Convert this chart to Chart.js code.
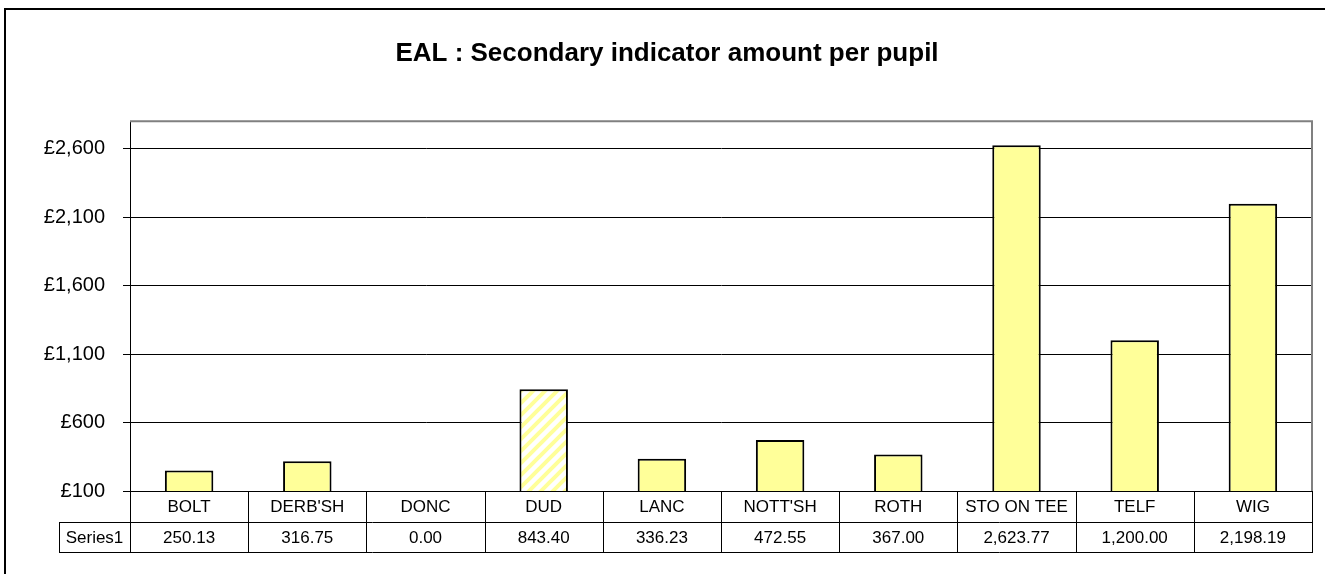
<!DOCTYPE html>
<html>
<head>
<meta charset="utf-8">
<script src="https://cdn.jsdelivr.net/npm/chart.js@4/dist/chart.umd.min.js"></script>
<style>
  body { margin: 0; background: #fff; }
  #wrap { width: 1325px; height: 574px; }
</style>
</head>
<body>
<div id="wrap"><canvas id="chart" width="1325" height="574"></canvas></div>
<script>
// data
const categories = ['BOLT', "DERB'SH", 'DONC', 'DUD', 'LANC', "NOTT'SH", 'ROTH', 'STO ON TEE', 'TELF', 'WIG'];
const values = [250.13, 316.75, 0.00, 843.40, 336.23, 472.55, 367.00, 2623.77, 1200.00, 2198.19];
const tickValues = [100, 600, 1100, 1600, 2100, 2600];
const seriesName = 'Series1';
const hatchedCategory = 'DUD';

const FONT = '"Liberation Sans", Arial, sans-serif';
const BAR_FILL = '#FFFF99';

function makeHatch() {
  var c = document.createElement('canvas');
  c.width = 12; c.height = 12;
  var g = c.getContext('2d');
  g.fillStyle = '#fff';
  g.fillRect(0, 0, 12, 12);
  g.strokeStyle = BAR_FILL;
  g.lineWidth = 4;
  g.beginPath();
  g.moveTo(-3, 15); g.lineTo(15, -3);
  g.moveTo(-3, 3); g.lineTo(3, -3);
  g.moveTo(9, 15); g.lineTo(15, 9);
  g.stroke();
  return g.createPattern(c, 'repeat');
}

var hatch = makeHatch();

function fmtValue(v) {
  return v.toLocaleString('en-US', { minimumFractionDigits: 2, maximumFractionDigits: 2 });
}

// outer frame + plot border + data table under the axis
var tablePlugin = {
  id: 'dataTable',
  beforeDraw(chart) {
    var ctx = chart.ctx;
    ctx.save();
    ctx.fillStyle = '#fff';
    ctx.fillRect(0, 0, chart.width, chart.height);
    ctx.strokeStyle = '#000';
    ctx.lineWidth = 2;
    ctx.beginPath();
    ctx.moveTo(5, chart.height);
    ctx.lineTo(5, 9);
    ctx.lineTo(chart.width, 9);
    ctx.stroke();
    ctx.restore();
  },
  afterDraw(chart) {
    var ctx = chart.ctx;
    var a = chart.chartArea;
    var x = chart.scales.x;
    var y0 = a.bottom, y1 = y0 + 31, y2 = y0 + 61;
    var left = 59;
    ctx.save();

    // grey plot border top and right
    ctx.strokeStyle = '#808080';
    ctx.lineWidth = 2;
    ctx.beginPath();
    ctx.moveTo(a.left, a.top);
    ctx.lineTo(a.right, a.top);
    ctx.lineTo(a.right, y0);
    ctx.stroke();

    ctx.strokeStyle = '#000';
    ctx.lineWidth = 1;
    ctx.beginPath();
    ctx.moveTo(left, y1 + 0.5); ctx.lineTo(a.right + 1, y1 + 0.5);
    ctx.moveTo(left, y2 + 0.5); ctx.lineTo(a.right + 1, y2 + 0.5);
    ctx.moveTo(left + 0.5, y1); ctx.lineTo(left + 0.5, y2 + 1);
    var n = categories.length;
    for (var i = 0; i <= n; i++) {
      var xb;
      if (i === 0) xb = a.left;
      else if (i === n) xb = a.right;
      else xb = (x.getPixelForValue(i - 1) + x.getPixelForValue(i)) / 2;
      xb = Math.round(xb) + 0.5;
      ctx.moveTo(xb, y0); ctx.lineTo(xb, y2 + 1);
    }
    ctx.stroke();

    ctx.fillStyle = '#000';
    ctx.font = '17px ' + FONT;
    ctx.textAlign = 'center';
    ctx.textBaseline = 'middle';
    var mid = (y1 + y2) / 2 + 1;
    ctx.fillText(seriesName, (left + a.left) / 2, mid);
    values.forEach(function (v, i) {
      ctx.fillText(fmtValue(v), x.getPixelForValue(i), mid);
    });
    ctx.restore();
  }
};

var chart = new Chart(document.getElementById('chart'), {
  type: 'bar',
  data: {
    labels: categories,
    datasets: [
      {
        label: seriesName,
        data: values,
        backgroundColor: categories.map((c) => (c === hatchedCategory ? hatch : BAR_FILL)),
        borderColor: '#000',
        borderWidth: 2,
        borderSkipped: 'bottom',
        barPercentage: 0.41,
        categoryPercentage: 1,
        clip: 0,
      },
    ],
  },
  options: {
    responsive: false,
    animation: false,
    layout: { padding: { left: 9, right: 0, top: 0, bottom: 0 } },
    plugins: {
      legend: { display: false },
      tooltip: { enabled: false },
      title: {
        display: true,
        text: 'EAL : Secondary indicator amount per pupil',
        color: '#000',
        font: { family: FONT, size: 26, weight: 'bold' },
        padding: { top: 38, bottom: 52 },
      },
    },
    scales: {
      x: {
        type: 'category',
        offset: true,
        grid: { display: false, drawTicks: false },
        border: { display: true, color: '#000', width: 1 },
        ticks: {
          color: '#000',
          font: { family: FONT, size: 17 },
          padding: 6,
          maxRotation: 0,
          autoSkip: false,
        },
        afterFit: (scale) => {
          scale.height = 83;
        },
      },
      y: {
        type: 'linear',
        min: 100,
        max: 2800,
        grid: { color: '#000', lineWidth: 1, tickLength: 7, drawTicks: true },
        border: { display: true, color: '#000', width: 1 },
        ticks: {
          color: '#000',
          font: { family: FONT, size: 20 },
          padding: 18,
          callback: (v) => '£' + v.toLocaleString('en-GB'),
        },
        afterBuildTicks: (scale) => {
          scale.ticks = tickValues.map((v) => ({ value: v }));
        },
        afterFit: (scale) => {
          scale.width = 121;
        },
      },
      // empty strip on the right so the plot ends where the reference does
      spacer: {
        type: 'linear',
        position: 'right',
        grid: { display: false, drawTicks: false },
        border: { display: false },
        ticks: { display: false },
        afterFit: (scale) => {
          scale.width = 13;
        },
      },
    },
  },
  plugins: [tablePlugin],
});
</script>
</body>
</html>
